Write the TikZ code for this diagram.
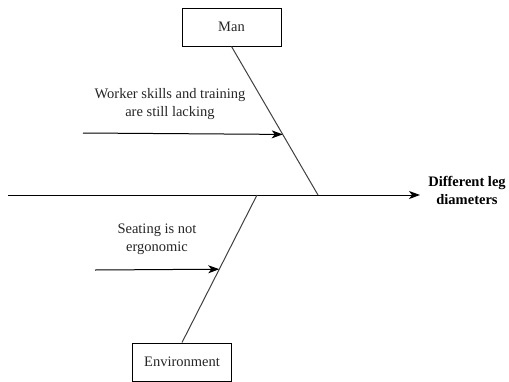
\documentclass[tikz,border=0pt]{standalone}
\usepackage{fontspec}
\setmainfont{Liberation Serif}
\newfontfamily\timesface{Liberation Serif}
\usetikzlibrary{arrows.meta,calc}
\begin{document}
\begin{tikzpicture}[x=1pt,y=-1pt,
  every node/.style={font=\timesface\fontsize{14.5}{18}\selectfont, align=center, inner sep=0pt, text=black!85},
  catbox/.style={draw=black, line width=1pt, minimum width=99pt, minimum height=38pt},
  bone/.style={line width=1pt, draw=black!75},
  cause/.style={line width=1pt, -{Stealth[length=11pt,width=8pt,inset=3pt]}}]
  \useasboundingbox (0,0) rectangle (509,381);
  % categories
  \node[catbox] (man) at (231.5,27) {Man};
  \node[catbox] (env) at (182,362) {Environment};
  % spine
  \coordinate (tail) at (8,195);
  \coordinate (head) at (420,195);
  \node[font=\timesface\bfseries\fontsize{14.5}{18}\selectfont, text=black] (effect) at (467,190) {Different leg\\diameters};
  \draw[cause] (tail) -- (head);
  % branches
  \coordinate (manj) at (318,195);
  \coordinate (envj) at (257,195);
  \draw[bone] (man.south) -- (manj);
  \draw[bone] (env.north) -- (envj);
  % causes
  \coordinate (c1s) at (83,133);
  \coordinate (c1e) at ($(man.south)!0.592!(manj)$);
  \coordinate (c2s) at (95,270);
  \coordinate (c2e) at ($(env.north)!0.497!(envj)$);
  \node (t1) at (170,104) {Worker skills and training\\are still lacking};
  \node (t2) at (157,239) {Seating is not\\ergonomic};
  \draw[cause] (c1s) -- (c1e);
  \draw[cause] (c2s) -- (c2e);
\end{tikzpicture}
\end{document}
